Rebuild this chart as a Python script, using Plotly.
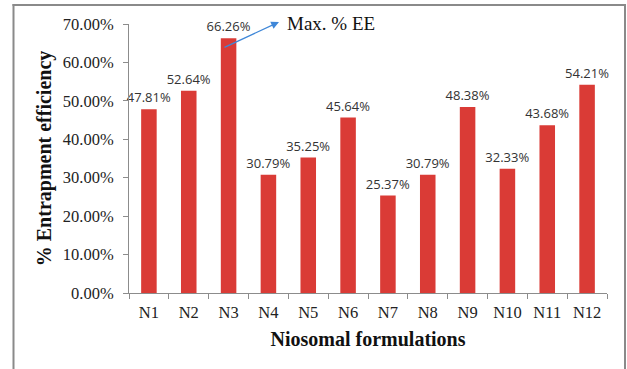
import plotly.graph_objects as go

categories = ["N1", "N2", "N3", "N4", "N5", "N6", "N7", "N8", "N9", "N10", "N11", "N12"]
efficiency = [0.4781, 0.5264, 0.6626, 0.3079, 0.3525, 0.4564, 0.2537, 0.3079, 0.4838, 0.3233, 0.4368, 0.5421]
y_ticks = [0, 0.1, 0.2, 0.3, 0.4, 0.5, 0.6, 0.7]

fig = go.Figure()
fig.add_trace(go.Bar(
    x=categories, y=efficiency,
    marker=dict(color="#DA3B36", line=dict(width=0)),
    text=[f"{v*100:.2f}%" for v in efficiency],
    textposition="outside",
    constraintext="none",
    textfont=dict(family="Open Sans, Liberation Sans, sans-serif", size=13, color="#333333"),
    cliponaxis=False,
))

axis_font = dict(family="Liberation Serif, Times New Roman, serif", size=16.5, color="#222222")

def px(xp):
    return (xp - 129) / 478
def py(yp):
    return (293 - yp) / 269

border = dict(color="#8a8a8a", width=2)

fig.update_layout(
    width=627, height=369,
    margin=dict(l=129, r=20, t=24, b=76),
    plot_bgcolor="white", paper_bgcolor="white",
    bargap=0.61,
    showlegend=False,
    xaxis=dict(
        showline=True, linecolor="#8c8c8c", linewidth=1,
        ticks="outside", tickson="boundaries", ticklen=5, tickcolor="#8c8c8c",
        tickfont=axis_font, ticklabelstandoff=4,
        title=dict(text="<b>Niosomal formulations</b>",
                   font=dict(family="Liberation Serif, Times New Roman, serif", size=20, color="#111111"),
                   standoff=11),
    ),
    yaxis=dict(
        range=[0, 0.7], tickvals=y_ticks, tickformat=".2%",
        showline=True, linecolor="#8c8c8c", linewidth=1,
        ticks="outside", ticklen=5, tickcolor="#8c8c8c",
        showgrid=False, zeroline=False,
        tickfont=axis_font, ticklabelstandoff=6,
        title=dict(text="<b>% Entrapment efficiency</b>",
                   font=dict(family="Liberation Serif, Times New Roman, serif", size=20, color="#111111"),
                   standoff=5),
    ),
    shapes=[
        dict(type="rect", xref="paper", yref="paper", ysizemode="pixel", yanchor=1,
             x0=px(12.5), x1=px(626), y0=18, y1=20,
             line=dict(width=0), fillcolor="#8a8a8a", layer="above"),
        dict(type="line", xref="paper", yref="paper", x0=px(13.5), x1=px(13.5), y0=py(4), y1=py(380), line=border),
        dict(type="line", xref="paper", yref="paper", x0=px(625), x1=px(625), y0=py(4), y1=py(380), line=border),
    ],
)

fig.add_annotation(x=px(279), y=py(22), ax=-56, ay=26,
                   xref="paper", yref="paper", axref="pixel", ayref="pixel",
                   showarrow=True, arrowhead=2, arrowsize=1.2, arrowwidth=1.3,
                   arrowcolor="#3F87D8", text="")
fig.add_annotation(x=px(285), y=py(23), xref="paper", yref="paper",
                   xanchor="left", yanchor="middle", showarrow=False,
                   text="Max. % EE",
                   font=dict(family="Liberation Serif, Times New Roman, serif", size=19, color="#111111"))

fig.write_html("out.html", config={"displayModeBar": False},
               post_script="document.body.style.margin='0';")
